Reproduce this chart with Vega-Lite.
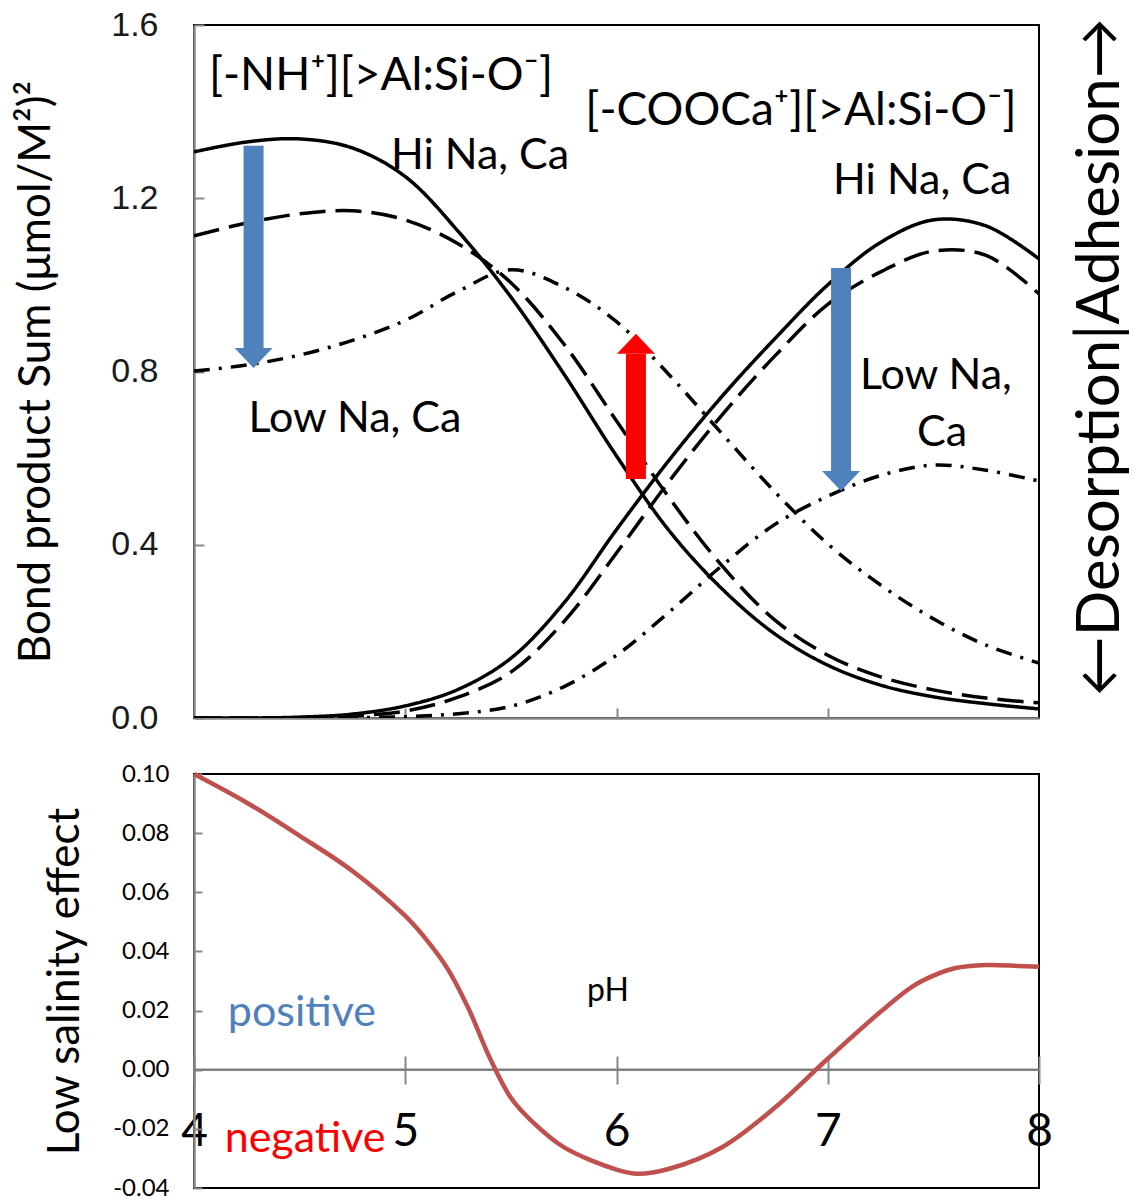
{
  "$schema": "https://vega.github.io/schema/vega-lite/v6.json",
  "background": "white",
  "padding": {"left": 13, "top": 7, "right": 0, "bottom": 0},
  "spacing": 25,
  "config": {
    "view": {"stroke": "#000000", "strokeWidth": 2},
    "axis": {"grid": false, "domainColor": "#888888", "domainWidth": 2.5, "tickColor": "#888888", "tickWidth": 2},
    "text": {"font": "Lato"}
  },
  "datasets": {
    "bond": [
      {"site": "NH", "salinity": "Hi", "pH": 4.0, "value": 1.307},
      {"site": "NH", "salinity": "Hi", "pH": 4.25, "value": 1.330},
      {"site": "NH", "salinity": "Hi", "pH": 4.5, "value": 1.337},
      {"site": "NH", "salinity": "Hi", "pH": 4.75, "value": 1.316},
      {"site": "NH", "salinity": "Hi", "pH": 5.0, "value": 1.250},
      {"site": "NH", "salinity": "Hi", "pH": 5.25, "value": 1.124},
      {"site": "NH", "salinity": "Hi", "pH": 5.5, "value": 0.972},
      {"site": "NH", "salinity": "Hi", "pH": 5.75, "value": 0.795},
      {"site": "NH", "salinity": "Hi", "pH": 6.0, "value": 0.605},
      {"site": "NH", "salinity": "Hi", "pH": 6.25, "value": 0.432},
      {"site": "NH", "salinity": "Hi", "pH": 6.5, "value": 0.298},
      {"site": "NH", "salinity": "Hi", "pH": 6.75, "value": 0.194},
      {"site": "NH", "salinity": "Hi", "pH": 7.0, "value": 0.122},
      {"site": "NH", "salinity": "Hi", "pH": 7.25, "value": 0.076},
      {"site": "NH", "salinity": "Hi", "pH": 7.5, "value": 0.049},
      {"site": "NH", "salinity": "Hi", "pH": 7.75, "value": 0.033},
      {"site": "NH", "salinity": "Hi", "pH": 8.0, "value": 0.021},
      {"site": "NH", "salinity": "Intermediate", "pH": 4.0, "value": 1.113},
      {"site": "NH", "salinity": "Intermediate", "pH": 4.25, "value": 1.143},
      {"site": "NH", "salinity": "Intermediate", "pH": 4.5, "value": 1.164},
      {"site": "NH", "salinity": "Intermediate", "pH": 4.75, "value": 1.171},
      {"site": "NH", "salinity": "Intermediate", "pH": 5.0, "value": 1.150},
      {"site": "NH", "salinity": "Intermediate", "pH": 5.25, "value": 1.095},
      {"site": "NH", "salinity": "Intermediate", "pH": 5.5, "value": 1.005},
      {"site": "NH", "salinity": "Intermediate", "pH": 5.75, "value": 0.864},
      {"site": "NH", "salinity": "Intermediate", "pH": 6.0, "value": 0.686},
      {"site": "NH", "salinity": "Intermediate", "pH": 6.25, "value": 0.508},
      {"site": "NH", "salinity": "Intermediate", "pH": 6.5, "value": 0.351},
      {"site": "NH", "salinity": "Intermediate", "pH": 6.75, "value": 0.226},
      {"site": "NH", "salinity": "Intermediate", "pH": 7.0, "value": 0.145},
      {"site": "NH", "salinity": "Intermediate", "pH": 7.25, "value": 0.095},
      {"site": "NH", "salinity": "Intermediate", "pH": 7.5, "value": 0.065},
      {"site": "NH", "salinity": "Intermediate", "pH": 7.75, "value": 0.046},
      {"site": "NH", "salinity": "Intermediate", "pH": 8.0, "value": 0.035},
      {"site": "NH", "salinity": "Low", "pH": 4.0, "value": 0.801},
      {"site": "NH", "salinity": "Low", "pH": 4.25, "value": 0.815},
      {"site": "NH", "salinity": "Low", "pH": 4.5, "value": 0.838},
      {"site": "NH", "salinity": "Low", "pH": 4.75, "value": 0.872},
      {"site": "NH", "salinity": "Low", "pH": 5.0, "value": 0.918},
      {"site": "NH", "salinity": "Low", "pH": 5.25, "value": 0.985},
      {"site": "NH", "salinity": "Low", "pH": 5.5, "value": 1.035},
      {"site": "NH", "salinity": "Low", "pH": 5.75, "value": 0.995},
      {"site": "NH", "salinity": "Low", "pH": 6.0, "value": 0.915},
      {"site": "NH", "salinity": "Low", "pH": 6.25, "value": 0.792},
      {"site": "NH", "salinity": "Low", "pH": 6.5, "value": 0.656},
      {"site": "NH", "salinity": "Low", "pH": 6.75, "value": 0.522},
      {"site": "NH", "salinity": "Low", "pH": 7.0, "value": 0.402},
      {"site": "NH", "salinity": "Low", "pH": 7.25, "value": 0.307},
      {"site": "NH", "salinity": "Low", "pH": 7.5, "value": 0.229},
      {"site": "NH", "salinity": "Low", "pH": 7.75, "value": 0.168},
      {"site": "NH", "salinity": "Low", "pH": 8.0, "value": 0.127},
      {"site": "COOCa", "salinity": "Hi", "pH": 4.0, "value": 0.0},
      {"site": "COOCa", "salinity": "Hi", "pH": 4.25, "value": 0.0},
      {"site": "COOCa", "salinity": "Hi", "pH": 4.5, "value": 0.002},
      {"site": "COOCa", "salinity": "Hi", "pH": 4.75, "value": 0.009},
      {"site": "COOCa", "salinity": "Hi", "pH": 5.0, "value": 0.028},
      {"site": "COOCa", "salinity": "Hi", "pH": 5.25, "value": 0.066},
      {"site": "COOCa", "salinity": "Hi", "pH": 5.5, "value": 0.138},
      {"site": "COOCa", "salinity": "Hi", "pH": 5.75, "value": 0.265},
      {"site": "COOCa", "salinity": "Hi", "pH": 6.0, "value": 0.435},
      {"site": "COOCa", "salinity": "Hi", "pH": 6.25, "value": 0.596},
      {"site": "COOCa", "salinity": "Hi", "pH": 6.5, "value": 0.743},
      {"site": "COOCa", "salinity": "Hi", "pH": 6.75, "value": 0.876},
      {"site": "COOCa", "salinity": "Hi", "pH": 7.0, "value": 1.000},
      {"site": "COOCa", "salinity": "Hi", "pH": 7.25, "value": 1.098},
      {"site": "COOCa", "salinity": "Hi", "pH": 7.5, "value": 1.150},
      {"site": "COOCa", "salinity": "Hi", "pH": 7.75, "value": 1.136},
      {"site": "COOCa", "salinity": "Hi", "pH": 8.0, "value": 1.060},
      {"site": "COOCa", "salinity": "Intermediate", "pH": 4.0, "value": 0.0},
      {"site": "COOCa", "salinity": "Intermediate", "pH": 4.25, "value": 0.0},
      {"site": "COOCa", "salinity": "Intermediate", "pH": 4.5, "value": 0.001},
      {"site": "COOCa", "salinity": "Intermediate", "pH": 4.75, "value": 0.005},
      {"site": "COOCa", "salinity": "Intermediate", "pH": 5.0, "value": 0.016},
      {"site": "COOCa", "salinity": "Intermediate", "pH": 5.25, "value": 0.048},
      {"site": "COOCa", "salinity": "Intermediate", "pH": 5.5, "value": 0.106},
      {"site": "COOCa", "salinity": "Intermediate", "pH": 5.75, "value": 0.222},
      {"site": "COOCa", "salinity": "Intermediate", "pH": 6.0, "value": 0.381},
      {"site": "COOCa", "salinity": "Intermediate", "pH": 6.25, "value": 0.547},
      {"site": "COOCa", "salinity": "Intermediate", "pH": 6.5, "value": 0.700},
      {"site": "COOCa", "salinity": "Intermediate", "pH": 6.75, "value": 0.836},
      {"site": "COOCa", "salinity": "Intermediate", "pH": 7.0, "value": 0.955},
      {"site": "COOCa", "salinity": "Intermediate", "pH": 7.25, "value": 1.030},
      {"site": "COOCa", "salinity": "Intermediate", "pH": 7.5, "value": 1.078},
      {"site": "COOCa", "salinity": "Intermediate", "pH": 7.75, "value": 1.068},
      {"site": "COOCa", "salinity": "Intermediate", "pH": 8.0, "value": 0.979},
      {"site": "COOCa", "salinity": "Low", "pH": 4.0, "value": 0.0},
      {"site": "COOCa", "salinity": "Low", "pH": 4.25, "value": 0.0},
      {"site": "COOCa", "salinity": "Low", "pH": 4.5, "value": 0.0},
      {"site": "COOCa", "salinity": "Low", "pH": 4.75, "value": 0.001},
      {"site": "COOCa", "salinity": "Low", "pH": 5.0, "value": 0.003},
      {"site": "COOCa", "salinity": "Low", "pH": 5.25, "value": 0.010},
      {"site": "COOCa", "salinity": "Low", "pH": 5.5, "value": 0.027},
      {"site": "COOCa", "salinity": "Low", "pH": 5.75, "value": 0.072},
      {"site": "COOCa", "salinity": "Low", "pH": 6.0, "value": 0.145},
      {"site": "COOCa", "salinity": "Low", "pH": 6.25, "value": 0.245},
      {"site": "COOCa", "salinity": "Low", "pH": 6.5, "value": 0.352},
      {"site": "COOCa", "salinity": "Low", "pH": 6.75, "value": 0.447},
      {"site": "COOCa", "salinity": "Low", "pH": 7.0, "value": 0.512},
      {"site": "COOCa", "salinity": "Low", "pH": 7.25, "value": 0.560},
      {"site": "COOCa", "salinity": "Low", "pH": 7.5, "value": 0.584},
      {"site": "COOCa", "salinity": "Low", "pH": 7.75, "value": 0.572},
      {"site": "COOCa", "salinity": "Low", "pH": 8.0, "value": 0.547}
    ],
    "arrows": [
      {"pH": 4.282, "from": 1.321, "base": 0.850, "tip": 0.808, "kind": "down"},
      {"pH": 7.063, "from": 1.039, "base": 0.566, "tip": 0.524, "kind": "down"},
      {"pH": 6.092, "from": 0.552, "base": 0.841, "tip": 0.887, "kind": "up"}
    ],
    "topLabels": [
      {"text": "[-NH⁺][>Al:Si-O⁻]", "pH": 4.885, "value": 1.482, "kind": "site"},
      {"text": "[-COOCa⁺][>Al:Si-O⁻]", "pH": 6.873, "value": 1.402, "kind": "site"},
      {"text": "Hi Na, Ca", "pH": 5.354, "value": 1.298, "kind": "case"},
      {"text": "Hi Na, Ca", "pH": 7.447, "value": 1.240, "kind": "case"},
      {"text": "Low Na, Ca", "pH": 4.762, "value": 0.690, "kind": "case"},
      {"text": "Low Na,", "pH": 7.512, "value": 0.790, "kind": "case"},
      {"text": "Ca", "pH": 7.541, "value": 0.658, "kind": "case"}
    ],
    "sideLabel": [
      {"text": "←Desorption|Adhesion→", "pH": 8.379, "value": 0.833}
    ],
    "effect": [
      {"pH": 4.0, "effect": 0.100},
      {"pH": 4.25, "effect": 0.0903},
      {"pH": 4.5, "effect": 0.0791},
      {"pH": 4.75, "effect": 0.0672},
      {"pH": 5.0, "effect": 0.0520},
      {"pH": 5.1, "effect": 0.0440},
      {"pH": 5.2, "effect": 0.0342},
      {"pH": 5.3, "effect": 0.0206},
      {"pH": 5.4, "effect": 0.0040},
      {"pH": 5.5, "effect": -0.0095},
      {"pH": 5.6, "effect": -0.0175},
      {"pH": 5.75, "effect": -0.0262},
      {"pH": 6.0, "effect": -0.0338},
      {"pH": 6.1, "effect": -0.0352},
      {"pH": 6.25, "effect": -0.0335},
      {"pH": 6.5, "effect": -0.0262},
      {"pH": 6.75, "effect": -0.0128},
      {"pH": 7.0, "effect": 0.0037},
      {"pH": 7.25, "effect": 0.0196},
      {"pH": 7.4, "effect": 0.0281},
      {"pH": 7.5, "effect": 0.0318},
      {"pH": 7.6, "effect": 0.0343},
      {"pH": 7.75, "effect": 0.0354},
      {"pH": 7.9, "effect": 0.0351},
      {"pH": 8.0, "effect": 0.0348}
    ],
    "signLabels": [
      {"text": "positive", "sign": "positive", "pH": 4.511, "effect": 0.0192},
      {"text": "negative", "sign": "negative", "pH": 4.526, "effect": -0.0233}
    ],
    "axisLabel": [
      {"text": "pH", "pH": 5.96, "effect": 0.0267}
    ],
    "zero": [{"effect": 0}]
  },
  "vconcat": [
    {
      "width": 845,
      "height": 693,
      "layer": [
        {
          "data": {"name": "bond"},
          "mark": {"type": "line", "interpolate": "catmull-rom", "color": "#000000", "strokeWidth": 3.5, "clip": true},
          "encoding": {
            "x": {"field": "pH", "type": "quantitative", "scale": {"domain": [4, 8], "nice": false, "zero": false},
                  "axis": {"title": null, "labels": false, "values": [5, 6, 7], "tickSize": -10}},
            "y": {"field": "value", "type": "quantitative", "scale": {"domain": [0, 1.6], "nice": false},
                  "axis": {"title": "Bond product Sum (μmol/M²)²", "values": [0, 0.4, 0.8, 1.2, 1.6], "format": ".1f",
                           "tickSize": -10, "labelPadding": 46, "labelFont": "Liberation Sans", "labelFontSize": 34,
                           "labelColor": "#1a1a1a", "titleFont": "Lato", "titleFontSize": 44, "titleFontWeight": "normal",
                           "titleColor": "#000000", "titlePadding": 52}},
            "strokeDash": {"field": "salinity", "type": "nominal",
                           "scale": {"domain": ["Hi", "Intermediate", "Low"], "range": [[1, 0], [26, 10], [16, 9, 3, 9]]},
                           "legend": null},
            "detail": {"field": "site", "type": "nominal"}
          }
        },
        {
          "data": {"name": "arrows"},
          "mark": {"type": "rule", "strokeWidth": 20, "strokeCap": "butt"},
          "encoding": {
            "x": {"field": "pH", "type": "quantitative"},
            "y": {"field": "from", "type": "quantitative"},
            "y2": {"field": "base"},
            "color": {"field": "kind", "type": "nominal", "scale": {"domain": ["down", "up"], "range": ["#4F81BD", "#FF0000"]}, "legend": null}
          }
        },
        {
          "data": {"name": "arrows"},
          "mark": {"type": "point", "filled": true, "opacity": 1, "size": 1444, "strokeWidth": 0},
          "encoding": {
            "x": {"field": "pH", "type": "quantitative"},
            "y": {"field": "tip", "type": "quantitative"},
            "shape": {"field": "kind", "type": "nominal", "scale": {"domain": ["down", "up"], "range": ["M-1,-1.05L1,-1.05L0,0Z", "M-1,1.05L1,1.05L0,0Z"]}, "legend": null},
            "color": {"field": "kind", "type": "nominal", "scale": {"domain": ["down", "up"], "range": ["#4F81BD", "#FF0000"]}, "legend": null}
          }
        },
        {
          "data": {"name": "topLabels"},
          "mark": {"type": "text", "font": "Lato", "color": "#000000", "baseline": "middle", "align": "center"},
          "encoding": {
            "x": {"field": "pH", "type": "quantitative"},
            "y": {"field": "value", "type": "quantitative"},
            "text": {"field": "text"},
            "size": {"field": "kind", "type": "nominal", "scale": {"domain": ["site", "case"], "range": [46, 43]}, "legend": null}
          }
        },
        {
          "data": {"name": "sideLabel"},
          "mark": {"type": "text", "font": "Lato", "fontSize": 60, "color": "#000000", "baseline": "alphabetic", "align": "center", "angle": 270},
          "encoding": {
            "x": {"field": "pH", "type": "quantitative"},
            "y": {"field": "value", "type": "quantitative"},
            "text": {"field": "text"}
          }
        }
      ]
    },
    {
      "width": 845,
      "height": 414,
      "layer": [
        {
          "data": {"name": "zero"},
          "mark": {"type": "rule", "color": "#808080", "strokeWidth": 2.5},
          "encoding": {"y": {"field": "effect", "type": "quantitative"}}
        },
        {
          "data": {"name": "effect"},
          "mark": {"type": "line", "interpolate": "catmull-rom", "color": "#C0504D", "strokeWidth": 4.5},
          "encoding": {
            "x": {"field": "pH", "type": "quantitative", "scale": {"domain": [4, 8], "nice": false, "zero": false},
                  "axis": {"title": null, "values": [4, 5, 6, 7, 8], "format": "d", "offset": -132, "tickSize": 28, "domain": false,
                           "labelFont": "Lato", "labelFontSize": 46, "labelColor": "#000000", "labelPadding": 25, "labelFlush": false}},
            "y": {"field": "effect", "type": "quantitative", "scale": {"domain": [-0.04, 0.1], "nice": false, "zero": false},
                  "axis": {"title": "Low salinity effect", "values": [-0.04, -0.02, 0, 0.02, 0.04, 0.06, 0.08, 0.1],
                           "labelExpr": "replace(format(datum.value, '.2f'), '−', '-')",
                           "tickSize": -8, "labelPadding": 33, "labelFont": "Lato", "labelFontSize": 24, "labelColor": "#000000",
                           "titleFont": "Lato", "titleFontSize": 44, "titleFontWeight": "normal", "titleColor": "#000000", "titlePadding": 25}}
          }
        },
        {
          "data": {"name": "signLabels"},
          "mark": {"type": "text", "font": "Lato", "fontSize": 43, "baseline": "middle", "align": "center"},
          "encoding": {
            "x": {"field": "pH", "type": "quantitative"},
            "y": {"field": "effect", "type": "quantitative"},
            "text": {"field": "text"},
            "color": {"field": "sign", "type": "nominal", "scale": {"domain": ["positive", "negative"], "range": ["#0070C0", "#FF0000"]}, "legend": null}
          }
        },
        {
          "data": {"name": "axisLabel"},
          "mark": {"type": "text", "font": "Lato", "fontSize": 32, "color": "#000000", "baseline": "middle", "align": "center"},
          "encoding": {
            "x": {"field": "pH", "type": "quantitative"},
            "y": {"field": "effect", "type": "quantitative"},
            "text": {"field": "text"}
          }
        }
      ]
    }
  ]
}
